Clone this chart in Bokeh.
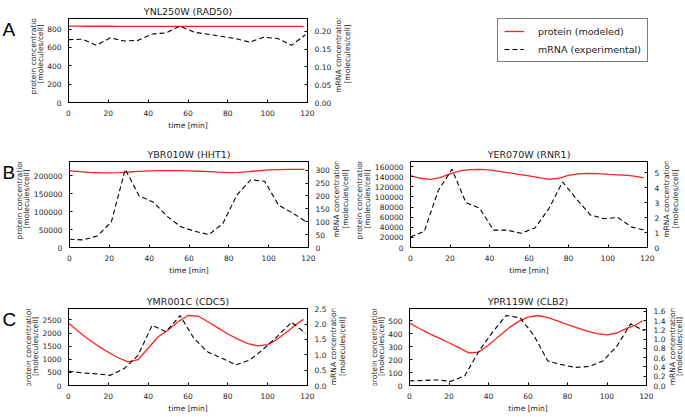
import math
from bokeh.plotting import figure
from bokeh.models import (Range1d, LinearAxis, SingleIntervalTicker,
                          NumeralTickFormatter, Legend, LegendItem)
from bokeh.layouts import row, column
from bokeh.embed import file_html
from bokeh.resources import INLINE
from bokeh.core.properties import value

# ---------------- data ----------------
t_mrna = [0, 7, 14, 21, 28, 35, 42, 49, 56, 63, 70, 77, 84, 91, 98, 105, 112, 119]
t_prot = [0, 5, 10, 15, 20, 25, 30, 35, 40, 45, 50, 55, 60, 65, 70, 75, 80,
          85, 90, 95, 100, 105, 110, 115, 118]

# A: YNL250W (RAD50)
a_prot = [832, 832, 831, 831, 831, 830, 830, 830, 830, 830, 830, 830, 830,
          830, 830, 829, 829, 829, 829, 829, 829, 829, 829, 829, 829]
a_mrna = [0.177, 0.178, 0.161, 0.182, 0.173, 0.175, 0.193, 0.196, 0.215,
          0.198, 0.192, 0.186, 0.180, 0.170, 0.184, 0.180, 0.161, 0.191]

# B left: YBR010W (HHT1)
b1_prot = [213000, 211000, 209100, 208000, 207400, 208300, 210100, 212000,
           213000, 213700, 213900, 213600, 213000, 212100, 211100, 209500,
           208300, 209000, 211100, 213500, 215700, 216800, 217500, 217500, 217400]
b1_mrna = [32, 29.5, 45, 99, 303.5, 200, 177, 121, 80, 63, 50, 93, 203, 263,
           257, 164, 134, 99]

# B right: YER070W (RNR1)
b2_prot = [142200, 136900, 134900, 138300, 145500, 151400, 154000, 154600,
           153400, 150500, 147500, 144500, 141600, 138000, 134900, 136900,
           142800, 145500, 146700, 146200, 144700, 143800, 142800, 140000, 137500]
b2_mrna = [0.70, 1.08, 3.79, 5.22, 3.01, 2.62, 1.16, 1.16, 0.95, 1.30, 2.58,
           4.38, 3.24, 2.18, 1.92, 2.00, 1.36, 1.14]

# C left: YMR001C (CDC5)
c1_prot = [2384, 2058, 1767, 1500, 1267, 1058, 900, 990, 1420, 1860, 2116,
           2430, 2670, 2650, 2430, 2198, 1965, 1767, 1600, 1510, 1560, 1780,
           2060, 2372, 2523]
c1_mrna = [0.47, 0.41, 0.38, 0.33, 0.55, 0.99, 1.96, 1.75, 2.28, 1.53, 1.09,
           0.89, 0.67, 0.83, 1.19, 1.61, 2.06, 1.70]

# C right: YPR119W (CLB2)
c2_prot = [481, 440, 400, 365, 330, 292, 252, 258, 310, 377, 440, 493, 528,
           540, 523, 498, 470, 444, 419, 400, 390, 405, 440, 470, 500]
c2_mrna = [0.10, 0.11, 0.12, 0.09, 0.21, 0.73, 1.15, 1.51, 1.46, 1.08, 0.53,
           0.45, 0.39, 0.41, 0.53, 0.85, 1.33, 1.18]

titles = ["YNL250W (RAD50)", "YBR010W (HHT1)", "YER070W (RNR1)",
          "YMR001C (CDC5)", "YPR119W (CLB2)"]
legend_labels = ["protein (modeled)", "mRNA (experimental)"]
letters = ["A", "B", "C"]
left_label = ["protein concentration", "[molecules/cell]"]
right_label = ["mRNA concentration", "[molecules/cell]"]
x_label = "time [min]"

FONT = "DejaVu Sans"
TXT = "#222222"
RED = "#ff2222"
DASH = "5 3"
VERT = math.pi / 2


def style_axis(ax, fmt, interval):
    ax.ticker = SingleIntervalTicker(interval=interval)
    ax.formatter = NumeralTickFormatter(format=fmt)
    ax.major_tick_in = 3
    ax.major_tick_out = 0
    ax.minor_tick_line_color = None
    ax.major_tick_line_color = "black"
    ax.axis_line_color = "black"
    ax.major_label_text_font = FONT
    ax.major_label_text_font_size = "7.5px"
    ax.major_label_text_color = TXT
    ax.major_label_standoff = 3
    ax.axis_label_text_font = FONT
    ax.axis_label_text_font_size = "7.5px"
    ax.axis_label_text_font_style = "normal"
    ax.axis_label_text_color = TXT
    ax.axis_label_standoff = 2


def drop_title(f):
    try:
        f.title = None
    except Exception:
        f.title.text = ""
        f.title.text_font_size = "0px"
        f.title.standoff = 0
        f.title.offset = 0


def text_fig(w, h, items):
    """A blank strip whose data units equal its pixels; items are texts."""
    f = figure(width=w, height=h, output_backend="svg", toolbar_location=None,
               x_range=Range1d(0, w), y_range=Range1d(0, h),
               min_border_left=0, min_border_right=0, min_border_top=0,
               min_border_bottom=0)
    drop_title(f)
    f.axis.visible = False
    f.xgrid.visible = False
    f.ygrid.visible = False
    f.outline_line_color = None
    for (x, y, txt, angle, size, font, align, base, color) in items:
        f.text(x=[x], y=[y], text=[txt], angle=angle,
               text_font=value(font), text_font_size=value(size),
               text_align=align, text_baseline=base, text_color=color)
    return f


def letter(txt, y):
    return (2, y, txt, 0, "19px", "Liberation Sans", "left", "top", "black")


def axlab(x, y, txt):
    return (x, y, txt, VERT, "7.5px", FONT, "center", "middle", TXT)


def panel(title, prot, mrna, w, h, bl, br, bt, bb, lint, lfmt, rint, rfmt):
    pmax = max(prot)
    mmax = max(mrna)
    p = figure(width=w, height=h, output_backend="svg", toolbar_location=None,
               x_range=Range1d(0, 120), y_range=Range1d(0, 1.1 * pmax),
               min_border_left=bl, min_border_right=br, min_border_top=bt,
               min_border_bottom=bb, x_axis_label=x_label)
    p.extra_y_ranges = {"mrna": Range1d(0, 1.1 * mmax)}
    p.xgrid.visible = False
    p.ygrid.visible = False
    p.outline_line_color = "black"
    p.outline_line_width = 1
    p.background_fill_color = "white"
    p.border_fill_color = "white"

    style_axis(p.xaxis[0], "0", 20)
    style_axis(p.yaxis[0], lfmt, lint)
    rax = LinearAxis(y_range_name="mrna")
    style_axis(rax, rfmt, rint)
    p.add_layout(rax, "right")

    p.title.text = title
    p.title.align = "center"
    p.title.text_font = FONT
    p.title.text_font_size = "9.5px"
    p.title.text_font_style = "normal"
    p.title.text_color = TXT
    p.title.standoff = 3

    p.line(t_prot, prot, line_color=RED, line_width=1.3)
    p.line(t_mrna, mrna, line_color="black", line_width=1.1, line_dash=DASH,
           y_range_name="mrna")
    return p


H1, H2, H3 = 140, 147, 128
cy1, cy2, cy3 = 81, 83, 65   # vertical centres of the frames (from bottom)

# ---------- row A ----------
fA0 = text_fig(44, H1, [letter(letters[0], H1 - 0.5),
                        axlab(33.0, cy1, left_label[0]),
                        axlab(40.2, cy1, left_label[1])])
pA = panel(titles[0], a_prot, a_mrna, 290, H1, 22, 24, 16, 38,
           200, "0", 0.05, "0.00")
fA1 = text_fig(21, H1, [axlab(4.0, cy1, right_label[0]),
                        axlab(12.5, cy1, right_label[1])])

fL = figure(width=328, height=H1, output_backend="svg", toolbar_location=None,
            x_range=Range1d(0, 1), y_range=Range1d(0, 1),
            min_border_left=142, min_border_top=18, min_border_right=0,
            min_border_bottom=0)
drop_title(fL)
fL.axis.visible = False
fL.xgrid.visible = False
fL.ygrid.visible = False
fL.outline_line_color = None
r1 = fL.line([-10, -9], [-10, -9], line_color=RED, line_width=1.3)
r2 = fL.line([-10, -9], [-10, -9], line_color="black", line_width=1.1,
             line_dash=DASH)
leg = Legend(items=[LegendItem(label=legend_labels[0], renderers=[r1]),
                    LegendItem(label=legend_labels[1], renderers=[r2])],
             location="top_left")
leg.border_line_color = "black"
leg.border_line_width = 1
leg.background_fill_color = "white"
leg.label_text_font = FONT
leg.label_text_font_size = "9.5px"
leg.label_text_color = TXT
leg.glyph_width = 20
leg.glyph_height = 12
leg.label_height = 12
leg.label_standoff = 14
leg.padding = 6
leg.spacing = 6
leg.margin = 0
fL.add_layout(leg)

# ---------- row B ----------
fB0 = text_fig(30, H2, [letter(letters[1], H2 - 1.7),
                        axlab(19.0, cy2, left_label[0]),
                        axlab(26.0, cy2, left_label[1])])
pB1 = panel(titles[1], b1_prot, b1_mrna, 302, H2, 36, 22, 21, 40,
            50000, "0", 50, "0")
fB1 = text_fig(39, H2, [axlab(4.0, cy2, right_label[0]),
                        axlab(12.5, cy2, right_label[1]),
                        axlab(26.5, cy2, left_label[0]),
                        axlab(34.5, cy2, left_label[1])])
pB2 = panel(titles[2], b2_prot, b2_mrna, 291, H2, 36, 12, 21, 40,
            20000, "0", 1, "0")
fB2 = text_fig(21, H2, [axlab(4.0, cy2, right_label[0]),
                        axlab(12.5, cy2, right_label[1])])

# ---------- row C ----------
fC0 = text_fig(39, H3, [letter(letters[2], H3 - 0.7),
                        axlab(27.5, cy3, left_label[0]),
                        axlab(35.0, cy3, left_label[1])])
pC1 = panel(titles[3], c1_prot, c1_mrna, 290, H3, 27, 19, 21, 23,
            500, "0", 0.5, "0.0")
fC1 = text_fig(56, H3, [axlab(4.0, cy3, right_label[0]),
                        axlab(13.0, cy3, right_label[1]),
                        axlab(44.5, cy3, left_label[0]),
                        axlab(52.0, cy3, left_label[1])])
pC2 = panel(titles[4], c2_prot, c2_mrna, 283, H3, 22, 19, 21, 23,
            100, "0", 0.2, "0.0")
fC2 = text_fig(15, H3, [axlab(4.0, cy3, right_label[0]),
                        axlab(11.2, cy3, right_label[1])])

layout = column(row(fA0, pA, fA1, fL),
                row(fB0, pB1, fB1, pB2, fB2),
                row(fC0, pC1, fC1, pC2, fC2))

open("out.html", "w").write(file_html(layout, INLINE))
